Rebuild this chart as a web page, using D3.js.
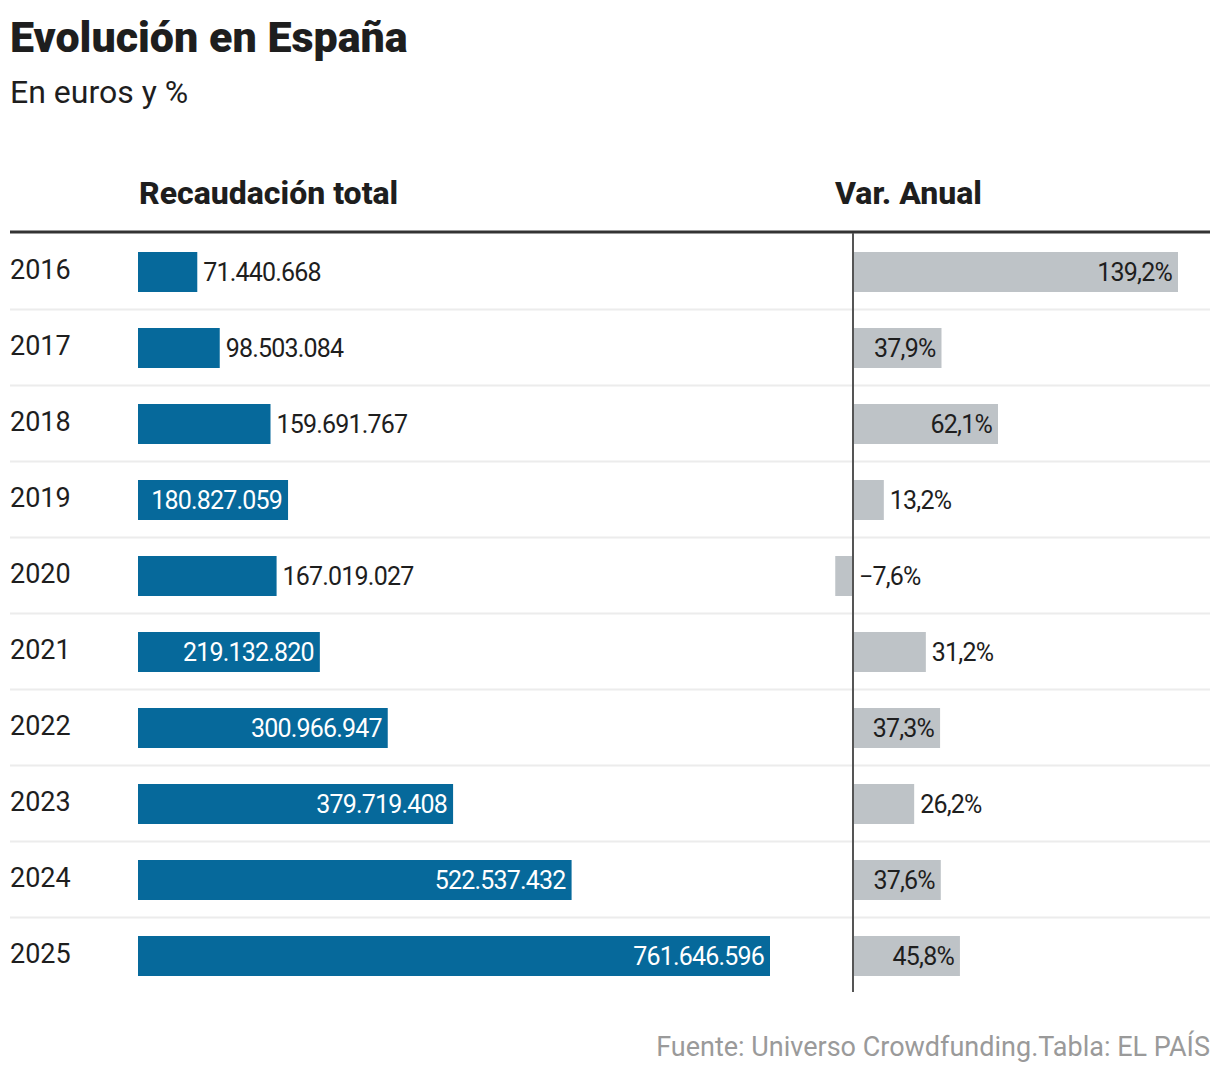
<!DOCTYPE html>
<html>
<head>
<meta charset="utf-8">
<script src="https://cdn.jsdelivr.net/npm/d3@7"></script>
<style>
  body { margin: 0; background: #fff; }
  svg text { font-family: Roboto, "Noto Sans", sans-serif; }
  .num { letter-spacing: -0.8px; }
</style>
</head>
<body>
<script>
// data
const years = ["2016", "2017", "2018", "2019", "2020", "2021", "2022", "2023", "2024", "2025"];
const totals = [71440668, 98503084, 159691767, 180827059, 167019027, 219132820, 300966947, 379719408, 522537432, 761646596];
const changes = [139.2, 37.9, 62.1, 13.2, -7.6, 31.2, 37.3, 26.2, 37.6, 45.8];

const title = "Evolución en España";
const subtitle = "En euros y %";
const headers = ["Recaudación total", "Var. Anual"];
const source = "Fuente: Universo Crowdfunding.Tabla: EL PAÍS";

const W = 1220, H = 1076;
const blue = "#06699b", grey = "#bec3c7", ink = "#1e1e1e";

const es = d3.formatLocale({decimal: ",", thousands: ".", grouping: [3], currency: ["", "€"]});
const fmtTotal = es.format(",d");
const fmtPct = d => es.format(",.1f")(d) + "%";

const svg = d3.select("body").append("svg")
    .attr("width", W)
    .attr("height", H);

const y = d3.scaleBand()
    .domain(years)
    .range([233, 993]);

const x = d3.scaleLinear()
    .domain([0, d3.max(totals)])
    .range([138, 770]);

const v = d3.scaleLinear()
    .domain([0, d3.max(changes)])
    .range([853, 1178]);

const rows = years.map((yr, i) => ({year: yr, total: totals[i], change: changes[i]}));

// titles
svg.append("text")
    .attr("x", 10).attr("y", 52)
    .attr("font-size", 43).attr("font-weight", 900)
    .attr("fill", ink)
    .text(title);

svg.append("text")
    .attr("x", 10).attr("y", 103)
    .attr("font-size", 32)
    .attr("fill", ink)
    .text(subtitle);

svg.append("text")
    .attr("x", 139).attr("y", 204)
    .attr("font-size", 32).attr("font-weight", 800)
    .attr("fill", ink)
    .text(headers[0]);

svg.append("text")
    .attr("x", 835).attr("y", 204)
    .attr("font-size", 32).attr("font-weight", 800)
    .attr("fill", ink)
    .text(headers[1]);

// row separators
svg.selectAll("line.sep")
    .data(years.slice(1))
  .enter().append("line")
    .attr("class", "sep")
    .attr("x1", 10).attr("x2", 1210)
    .attr("y1", d => y(d) + 0.5).attr("y2", d => y(d) + 0.5)
    .attr("stroke", "#ececec").attr("stroke-width", 2);

// header rule
svg.append("line")
    .attr("x1", 10).attr("x2", 1210)
    .attr("y1", 232).attr("y2", 232)
    .attr("stroke", "#333").attr("stroke-width", 3);

const row = svg.selectAll("g.row")
    .data(rows)
  .enter().append("g")
    .attr("class", "row")
    .attr("transform", d => `translate(0,${y(d.year)})`);

row.append("text")
    .attr("x", 10).attr("y", 46)
    .attr("font-size", 27)
    .attr("fill", ink)
    .text(d => d.year);

row.append("rect")
    .attr("x", x(0))
    .attr("y", 19)
    .attr("width", d => x(d.total) - x(0))
    .attr("height", 40)
    .attr("fill", blue);

row.append("text")
    .attr("class", "num")
    .each(function(d) {
        const w = x(d.total) - x(0);
        const inside = w > 145;
        d3.select(this)
            .attr("x", inside ? x(d.total) - 6 : x(d.total) + 6)
            .attr("text-anchor", inside ? "end" : "start")
            .attr("fill", inside ? "#fff" : ink);
    })
    .attr("y", 48)
    .attr("font-size", 25)
    .text(d => fmtTotal(d.total));

row.append("rect")
    .attr("x", d => Math.min(v(0), v(d.change)))
    .attr("y", 19)
    .attr("width", d => Math.abs(v(d.change) - v(0)))
    .attr("height", 40)
    .attr("fill", grey);

row.append("text")
    .attr("class", "num")
    .each(function(d) {
        const w = v(d.change) - v(0);
        const inside = w > 80;
        d3.select(this)
            .attr("x", inside ? v(d.change) - 6 : Math.max(v(0), v(d.change)) + 6)
            .attr("text-anchor", inside ? "end" : "start");
    })
    .attr("y", 48)
    .attr("font-size", 25)
    .attr("fill", ink)
    .text(d => fmtPct(d.change));

// zero line on top of the bars
svg.append("line")
    .attr("x1", v(0)).attr("x2", v(0))
    .attr("y1", 233).attr("y2", 992)
    .attr("stroke", "#555").attr("stroke-width", 2);

svg.append("text")
    .attr("x", 1210).attr("y", 1056)
    .attr("text-anchor", "end")
    .attr("font-size", 27)
    .attr("fill", "#9a9a9a")
    .text(source);
</script>
</body>
</html>
